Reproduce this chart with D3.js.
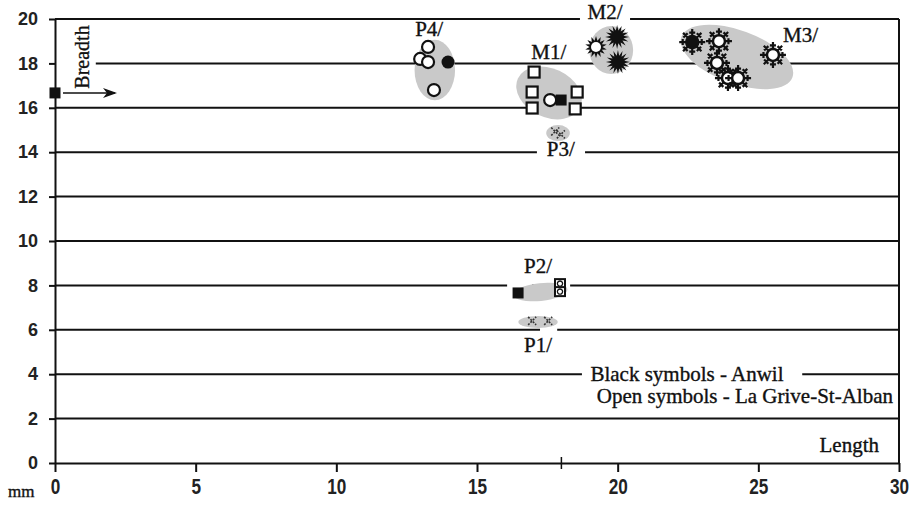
<!DOCTYPE html>
<html>
<head>
<meta charset="utf-8">
<script src="https://cdn.jsdelivr.net/npm/d3@7"></script>
<style>
  body { margin: 0; background: #fff; }
  svg { display: block; }
  .serif { font-family: "Liberation Serif", "Times New Roman", serif; fill: #111; stroke: #111; stroke-width: 0.35px; }
</style>
</head>
<body>
<div id="chart"></div>
<script>
var svgWidth = 911;
var svgHeight = 505;

var margin = { top: 19, right: 12, bottom: 42, left: 55 };
var width = svgWidth - margin.left - margin.right;
var height = svgHeight - margin.top - margin.bottom;

// tick values
var xTicks = [0, 5, 10, 15, 20, 25, 30];
var yTicks = [0, 2, 4, 6, 8, 10, 12, 14, 16, 18, 20];

// measurements (length, breadth) in mm, by symbol
var openCircles = [[13.26, 18.74], [12.98, 18.2], [13.26, 18.06], [13.47, 16.8], [17.6, 16.35]];
var blackCircles = [[13.97, 18.06]];
var openSquares = [[17.03, 17.61], [16.96, 16.71], [16.96, 15.99], [18.56, 16.71], [18.49, 15.95]];
var openTwinSquares = [[17.95, 8.08], [17.95, 7.72]];
var blackSquares = [[17.99, 16.35], [16.46, 7.66]];
var openSuns = [[19.23, 18.74]];
var blackSuns = [[19.98, 19.19], [20.01, 18.06]];
var openFlakes = [[23.6, 19.0], [23.53, 18.02], [23.92, 17.34], [24.28, 17.34], [25.52, 18.38]];
var blackFlakes = [[22.65, 18.96]];
var crosses = [[16.96, 6.4], [17.53, 6.4], [17.78, 14.93], [17.98, 14.8]];

// group outlines: [centre length, centre breadth, half length, half breadth, tilt]
var groups = [
  [13.5, 17.7, 0.72, 1.36, 0],
  [17.56, 16.67, 1.22, 1.1, 25],
  [19.77, 18.6, 0.78, 1.08, 0],
  [24.24, 18.29, 2.1, 1.2, 20],
  [17.88, 14.86, 0.42, 0.36, 0],
  [17.25, 7.7, 0.97, 0.4, -6],
  [17.17, 6.35, 0.7, 0.27, 0]
];

// tooth labels
var toothLabels = ["P4/", "M1/", "M2/", "M3/", "P3/", "P2/", "P1/"];
var toothAt = [[13.3, 19.25], [17.55, 18.2], [19.55, 20.0], [26.5, 18.95], [17.98, 13.85], [17.17, 8.55], [17.17, 5.0]];

// gaps in the grid lines (x ranges, mm)
var gridGaps = {
  20: [[18.66, 20.44]],
  18: [[0, 1.45]],
  14: [[17.13, 18.84]],
  8: [[16.07, 16.96], [17.42, 18.31]],
  6: [[17.24, 17.85]],
  4: [[18.73, 26.56]]
};

var svg = d3.select("#chart")
  .append("svg")
  .attr("width", svgWidth)
  .attr("height", svgHeight);

var chartGroup = svg.append("g")
  .attr("transform", `translate(${margin.left}, ${margin.top})`);

var x = d3.scaleLinear().domain([0, 30]).range([0, width]);
var y = d3.scaleLinear().domain([0, 20]).range([height, 0]);

// grid lines with their gaps
yTicks.filter(d => d > 0).forEach(function (v) {
  var gaps = gridGaps[v] || [];
  var segs = [];
  var start = 0;
  gaps.forEach(function (g) {
    if (g[0] > start) segs.push([start, g[0]]);
    start = g[1];
  });
  segs.push([start, 30]);
  segs.forEach(function (s) {
    chartGroup.append("line")
      .attr("x1", x(s[0])).attr("x2", x(s[1]))
      .attr("y1", y(v)).attr("y2", y(v))
      .attr("stroke", "#111").attr("stroke-width", 2);
  });
});

// right border
chartGroup.append("line")
  .attr("x1", x(30)).attr("x2", x(30))
  .attr("y1", y(0)).attr("y2", y(20))
  .attr("stroke", "#111").attr("stroke-width", 2);

// grey group outlines
chartGroup.selectAll("ellipse.grp")
  .data(groups)
  .enter()
  .append("ellipse")
  .attr("class", "grp")
  .attr("cx", 0).attr("cy", 0)
  .attr("rx", d => x(d[2]) - x(0))
  .attr("ry", d => y(0) - y(d[3]))
  .attr("transform", d => `translate(${x(d[0])},${y(d[1])}) rotate(${d[4]})`)
  .attr("fill", "#c9c9c9");

// axes
var bottomAxis = d3.axisBottom(x).tickValues(xTicks).tickSize(9).tickSizeOuter(0);
var leftAxis = d3.axisLeft(y).tickValues(yTicks).tickSize(6).tickSizeOuter(0);

var xAxis = chartGroup.append("g")
  .attr("transform", `translate(0, ${height})`)
  .call(bottomAxis);
xAxis.select(".domain").attr("stroke", "#111").attr("stroke-width", 2);
xAxis.selectAll(".tick line").attr("stroke", "#111").attr("stroke-width", 2);
xAxis.selectAll(".tick text")
  .attr("y", 15)
  .attr("transform", "scale(0.78,1)")
  .style("font-family", "'Liberation Sans', Arial, sans-serif")
  .style("font-weight", "bold")
  .style("font-size", "22px")
  .attr("fill", "#222");

// extra tick at 18 mm
chartGroup.append("line")
  .attr("x1", x(18)).attr("x2", x(18))
  .attr("y1", height - 6).attr("y2", height + 6)
  .attr("stroke", "#111").attr("stroke-width", 1.5);

var yAxis = chartGroup.append("g").call(leftAxis);
yAxis.select(".domain").attr("stroke", "#111").attr("stroke-width", 2);
yAxis.selectAll(".tick line").attr("stroke", "#111").attr("stroke-width", 2);
yAxis.selectAll(".tick text")
  .attr("x", -17)
  .style("font-family", "'Liberation Sans', Arial, sans-serif")
  .style("font-weight", "bold")
  .style("font-size", "18px")
  .attr("fill", "#222");

// symbol helpers
function sunPath(rOut, rIn, n) {
  var pts = [];
  for (var i = 0; i < n * 2; i++) {
    var r = i % 2 === 0 ? rOut : rIn;
    var a = Math.PI * i / n;
    pts.push([r * Math.sin(a), -r * Math.cos(a)]);
  }
  return "M" + pts.map(p => p[0].toFixed(2) + "," + p[1].toFixed(2)).join("L") + "Z";
}

function flakePath() {
  var p = "";
  for (var i = 0; i < 8; i++) {
    var a = Math.PI * i / 4;
    var c = Math.cos(a), s = Math.sin(a);
    p += `M${(5 * c).toFixed(2)},${(5 * s).toFixed(2)}L${(13 * c).toFixed(2)},${(13 * s).toFixed(2)}`;
    // small twig across the arm
    var mx = 9.5 * c, my = 9.5 * s;
    p += `M${(mx - 3 * s).toFixed(2)},${(my + 3 * c).toFixed(2)}L${(mx + 3 * s).toFixed(2)},${(my - 3 * c).toFixed(2)}`;
  }
  return p;
}

function place(d) { return `translate(${x(d[0])},${y(d[1])})`; }

// crosses (P1, P3)
var crossG = chartGroup.selectAll("g.cross").data(crosses).enter()
  .append("g").attr("class", "cross").attr("transform", place);
crossG.append("path")
  .attr("d", "M-4,-4L4,4M-4,4L4,-4")
  .attr("stroke", "#333").attr("stroke-width", 1.6)
  .attr("stroke-dasharray", "2,1.3").attr("fill", "none");

// snowflakes (M3)
var flakeG = chartGroup.selectAll("g.flake").data(openFlakes.concat(blackFlakes)).enter()
  .append("g").attr("class", "flake").attr("transform", place);
flakeG.append("path")
  .attr("d", flakePath())
  .attr("stroke", "#111").attr("stroke-width", 2.2).attr("fill", "none");
flakeG.append("circle")
  .attr("r", 6)
  .attr("fill", (d, i) => i < openFlakes.length ? "#fff" : "#111")
  .attr("stroke", "#111").attr("stroke-width", 2.5);

// suns (M2)
chartGroup.selectAll("path.bsun").data(blackSuns).enter()
  .append("path").attr("class", "bsun")
  .attr("transform", place)
  .attr("d", sunPath(12, 6.5, 16))
  .attr("fill", "#111");
var osun = chartGroup.selectAll("g.osun").data(openSuns).enter()
  .append("g").attr("class", "osun").attr("transform", place);
osun.append("path").attr("d", sunPath(11, 6.5, 14)).attr("fill", "#111");
osun.append("circle").attr("r", 5).attr("fill", "#fff");

// squares
chartGroup.selectAll("rect.osq").data(openSquares).enter()
  .append("rect").attr("class", "osq")
  .attr("x", d => x(d[0]) - 5.5).attr("y", d => y(d[1]) - 5.5)
  .attr("width", 11).attr("height", 11)
  .attr("fill", "#fff").attr("stroke", "#111").attr("stroke-width", 2.2);
var twin = chartGroup.selectAll("g.twin").data(openTwinSquares).enter()
  .append("g").attr("class", "twin").attr("transform", place);
twin.append("rect")
  .attr("x", -5).attr("y", -4.5).attr("width", 10).attr("height", 9)
  .attr("fill", "#fff").attr("stroke", "#111").attr("stroke-width", 2);
twin.append("circle")
  .attr("r", 2.6).attr("fill", "#fff").attr("stroke", "#111").attr("stroke-width", 1.3);
chartGroup.selectAll("rect.bsq").data(blackSquares).enter()
  .append("rect").attr("class", "bsq")
  .attr("x", d => x(d[0]) - 5.5).attr("y", d => y(d[1]) - 5.5)
  .attr("width", 11).attr("height", 11)
  .attr("fill", "#111");

// circles
chartGroup.selectAll("circle.oc").data(openCircles).enter()
  .append("circle").attr("class", "oc")
  .attr("cx", d => x(d[0])).attr("cy", d => y(d[1]))
  .attr("r", 6)
  .attr("fill", "#fff").attr("stroke", "#111").attr("stroke-width", 2.2);
chartGroup.selectAll("circle.bc").data(blackCircles).enter()
  .append("circle").attr("class", "bc")
  .attr("cx", d => x(d[0])).attr("cy", d => y(d[1]))
  .attr("r", 6.5)
  .attr("fill", "#111");

// tooth labels
chartGroup.selectAll("text.tooth").data(toothLabels).enter()
  .append("text").attr("class", "tooth serif")
  .attr("x", (d, i) => x(toothAt[i][0]))
  .attr("y", (d, i) => y(toothAt[i][1]))
  .attr("text-anchor", "middle")
  .style("font-size", "21px")
  .text(d => d);

// legend text
chartGroup.append("text").attr("class", "serif")
  .attr("x", 687 - margin.left).attr("y", 381 - margin.top)
  .attr("text-anchor", "middle")
  .style("font-size", "21px")
  .text("Black symbols - Anwil");
chartGroup.append("text").attr("class", "serif")
  .attr("x", 893 - margin.left).attr("y", 403 - margin.top)
  .attr("text-anchor", "end")
  .style("font-size", "21px")
  .text("Open symbols - La Grive-St-Alban");
chartGroup.append("text").attr("class", "serif")
  .attr("x", 879 - margin.left).attr("y", 452 - margin.top)
  .attr("text-anchor", "end")
  .style("font-size", "21px")
  .text("Length");

// breadth key: square, arrow, rotated label
chartGroup.append("rect")
  .attr("x", x(0) - 5.5).attr("y", y(16.67) - 5.5)
  .attr("width", 11).attr("height", 11)
  .attr("fill", "#111");
chartGroup.append("line")
  .attr("x1", 8).attr("x2", 60)
  .attr("y1", y(16.67)).attr("y2", y(16.67))
  .attr("stroke", "#111").attr("stroke-width", 1.5);
chartGroup.append("path")
  .attr("d", `M${62},${y(16.67)}L${48},${y(16.67) - 5}L${52},${y(16.67)}L${48},${y(16.67) + 5}Z`)
  .attr("fill", "#111");
chartGroup.append("text").attr("class", "serif")
  .attr("transform", `translate(${89 - margin.left}, ${57 - margin.top}) rotate(-90)`)
  .attr("text-anchor", "middle")
  .style("font-size", "20px")
  .text("Breadth");

// unit label
svg.append("text").attr("class", "serif")
  .attr("x", 8).attr("y", 497)
  .style("font-size", "17px")
  .text("mm");
</script>
</body>
</html>
